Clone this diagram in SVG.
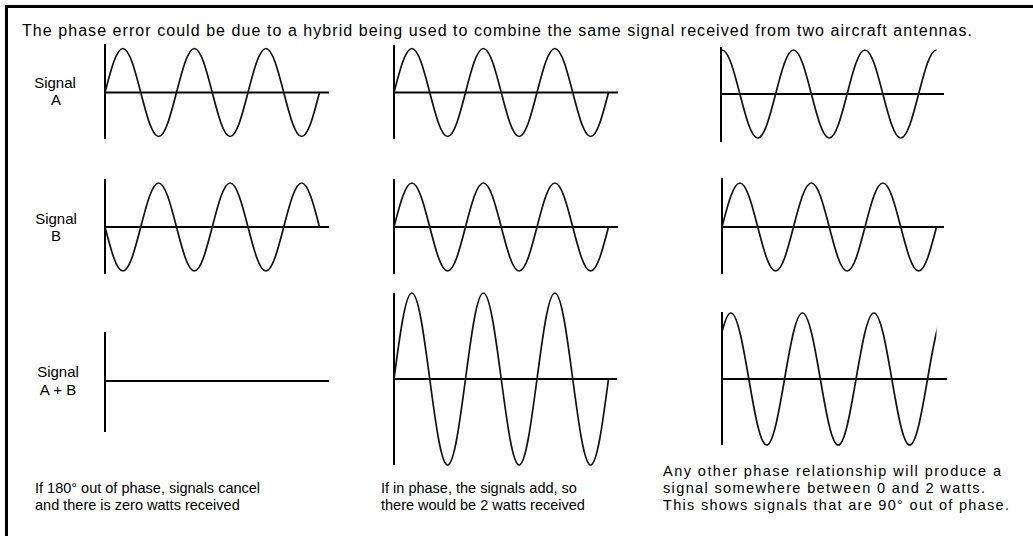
<svg xmlns="http://www.w3.org/2000/svg" xmlns:xlink="http://www.w3.org/1999/xlink" width="1033" height="536" viewBox="0 0 1033 536">
<style>
.ax{stroke:#000;stroke-width:2;fill:none}
.wv{stroke:#111;stroke-width:1.7;fill:none;stroke-linejoin:round}
.t{font-family:"Liberation Sans",Arial,sans-serif;font-size:16px;fill:#000}
.lb{font-family:"Liberation Sans",Arial,sans-serif;font-size:15px;fill:#000;text-anchor:middle}
.bt{font-family:"Liberation Sans",Arial,sans-serif;font-size:14.5px;fill:#000}
</style>
<defs>
<path id="sin44" class="wv" d="M0,0 c5.83,-22.54 11.41,-44 17.875,-44 c6.47,0 12.05,21.46 17.875,44 c5.83,22.54 11.41,44 17.875,44 c6.47,0 12.05,-21.46 17.875,-44 c5.83,-22.54 11.41,-44 17.875,-44 c6.470,0 12.05,21.46 17.875,44 c5.83,22.54 11.41,44 17.875,44 c6.47,0 12.05,-21.46 17.875,-44 c5.83,-22.54 11.41,-44 17.875,-44 c6.47,0 12.05,21.46 17.875,44 c5.83,22.54 11.41,44 17.875,44 c6.47,0 12.05,-21.46 17.875,-44"/>
<path id="cos44" class="wv" d="M0,-44 c6.47,0 12.05,21.46 17.875,44 c5.83,22.54 11.41,44 17.875,44 c6.47,0 12.05,-21.46 17.875,-44 c5.83,-22.54 11.41,-44 17.875,-44 c6.47,0 12.05,21.46 17.875,44 c5.83,22.54 11.41,44 17.875,44 c6.47,0 12.05,-21.46 17.875,-44 c5.83,-22.54 11.41,-44 17.875,-44 c6.47,0 12.05,21.46 17.875,44 c5.83,22.54 11.41,44 17.875,44 c6.47,0 12.05,-21.46 17.875,-44 c5.83,-22.54 11.41,-44 17.875,-44"/>
<path id="sin86" class="wv" d="M0,0 c5.83,-44.06 11.41,-86 17.875,-86 c6.47,0 12.05,41.94 17.875,86 c5.83,44.06 11.41,86 17.875,86 c6.47,0 12.05,-41.94 17.875,-86 c5.83,-44.06 11.41,-86 17.875,-86 c6.47,0 12.05,41.94 17.875,86 c5.83,44.06 11.41,86 17.875,86 c6.47,0 12.05,-41.94 17.875,-86 c5.83,-44.06 11.41,-86 17.875,-86 c6.47,0 12.05,41.94 17.875,86 c5.83,44.06 11.41,86 17.875,86 c6.47,0 12.05,-41.94 17.875,-86"/>
<path id="sin66" class="wv" d="M0,0 c5.83,-33.81 11.41,-66 17.875,-66 c6.47,0 12.05,32.19 17.875,66 c5.83,33.81 11.41,66 17.875,66 c6.47,0 12.05,-32.19 17.875,-66 c5.83,-33.81 11.41,-66 17.875,-66 c6.47,0 12.05,32.19 17.875,66 c5.83,33.81 11.41,66 17.875,66 c6.47,0 12.05,-32.19 17.875,-66 c5.83,-33.81 11.41,-66 17.875,-66 c6.47,0 12.05,32.19 17.875,66 c5.83,33.81 11.41,66 17.875,66 c6.47,0 12.05,-32.19 17.875,-66 c5.83,-33.81 11.41,-66 17.875,-66 c6.47,0 12.05,32.19 17.875,66"/>
<clipPath id="clip33"><rect x="722" y="300" width="214.5" height="160"/></clipPath>
</defs>
<rect x="0" y="0" width="1033" height="536" fill="#fff"/>
<g id="frame">
<line x1="5" y1="6.5" x2="1033" y2="6.5" stroke="#000" stroke-width="3"/>
<line x1="6.5" y1="5" x2="6.5" y2="536" stroke="#000" stroke-width="3"/>
</g>
<g id="title"><text class="t" x="22" y="36" textLength="950">The phase error could be due to a hybrid being used to combine the same signal received from two aircraft antennas.</text></g>
<g id="label-a"><text class="lb" x="55" y="88">Signal</text><text class="lb" x="56" y="105">A</text></g>
<g id="label-b"><text class="lb" x="56" y="224">Signal</text><text class="lb" x="56" y="241">B</text></g>
<g id="label-ab"><text class="lb" x="58" y="377">Signal</text><text class="lb" x="58" y="395">A + B</text></g>
<g id="panel-1a">
<path class="ax" d="M105,44V139M105,92.5H329"/>
<use xlink:href="#sin44" x="105" y="92.5"/>
</g>
<g id="panel-1b">
<path class="ax" d="M105,179V274M105,227H329"/>
<use xlink:href="#sin44" transform="translate(105,227) scale(1,-1)"/>
</g>
<g id="panel-1ab">
<path class="ax" d="M105,332V432M105,381H329"/>
</g>
<g id="panel-2a">
<path class="ax" d="M394,45V139M394,92.5H618"/>
<use xlink:href="#sin44" x="394" y="92.5"/>
</g>
<g id="panel-2b">
<path class="ax" d="M394,179V274M394,227H618"/>
<use xlink:href="#sin44" x="394" y="227"/>
</g>
<g id="panel-2ab">
<path class="ax" d="M394,293V465M394,379H617"/>
<use xlink:href="#sin86" x="394" y="379"/>
</g>
<g id="panel-3a">
<path class="ax" d="M721,47V142M721,94H944"/>
<use xlink:href="#cos44" x="722" y="94"/>
</g>
<g id="panel-3b">
<path class="ax" d="M722,178V274M722,227H944"/>
<use xlink:href="#sin44" x="722" y="227"/>
</g>
<g id="panel-3ab">
<path class="ax" d="M722,312V445M722,379H947"/>
<g clip-path="url(#clip33)"><use xlink:href="#sin66" x="713.06" y="379"/></g>
</g>
<g id="caption-1"><text class="bt" x="35" y="493">If 180° out of phase, signals cancel</text><text class="bt" x="35" y="510">and there is zero watts received</text></g>
<g id="caption-2"><text class="bt" x="381" y="493">If in phase, the signals add, so</text><text class="bt" x="381" y="510">there would be 2 watts received</text></g>
<g id="caption-3"><text class="bt" x="663" y="476" textLength="338">Any other phase relationship will produce a</text><text class="bt" x="663" y="493" textLength="322">signal somewhere between 0 and 2 watts.</text><text class="bt" x="663" y="510" textLength="346">This shows signals that are 90° out of phase.</text></g>
</svg>
